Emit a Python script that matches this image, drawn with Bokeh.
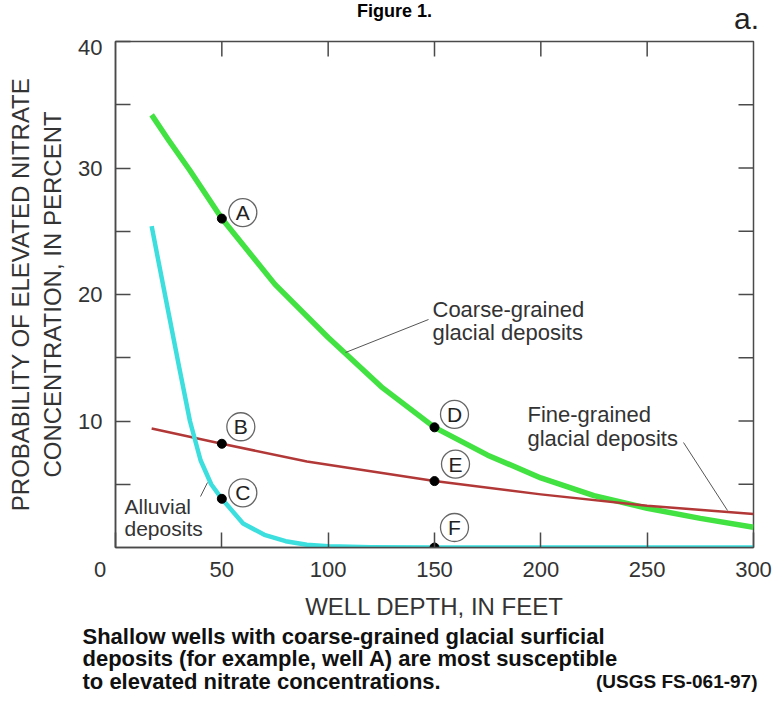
import numpy as np
from bokeh.plotting import figure
from bokeh.layouts import column
from bokeh.models import Range1d, Label, LinearAxis, FixedTicker
from bokeh.core.properties import value
from bokeh.embed import file_html
from bokeh.resources import INLINE

# ---------------- data ----------------
coarse_depth = [17, 25, 35, 50, 75, 100, 125, 150, 175, 200, 225, 250, 275, 300]
coarse_prob = [34.2, 32.2, 29.8, 26.0, 20.8, 16.6, 12.7, 9.5, 7.3, 5.5, 4.1, 3.1, 2.3, 1.6]

fine_depth = [17, 50, 90, 150, 200, 250, 300]
fine_prob = [9.4, 8.2, 6.8, 5.25, 4.2, 3.3, 2.65]

alluvial_depth = [17, 20, 25, 30, 35, 40, 45, 50, 60, 70, 80, 90, 100, 120, 150, 200, 250, 300]
alluvial_prob = [25.4, 22.8, 18.5, 14.2, 10.0, 6.9, 5.0, 3.85, 1.9, 1.0, 0.5, 0.22, 0.1, 0.02, 0, 0, 0, 0]

well_names = ["A", "B", "C", "D", "E", "F"]
well_depth = [50, 50, 50, 150, 150, 150]
well_prob = [26.0, 8.2, 3.85, 9.5, 5.25, 0.0]

x_ticks = [0, 50, 100, 150, 200, 250, 300]
y_ticks = [10, 20, 30, 40]
y_minor = [5, 15, 25, 35]

caption_lines = [
    "Shallow wells with coarse-grained glacial surficial",
    "deposits (for example, well A) are most susceptible",
    "to elevated nitrate concentrations.",
]
source_note = "(USGS FS-061-97)"

# ---------------- layout (page pixels) ----------------
W = 773
TOP_H = 39            # strip holding "Figure 1." and "a."
CAP_Y0 = 625          # caption strip starts here
H_TOTAL = 719
FX0, FX1 = 115, 753   # plot frame, page pixels
FY0, FY1 = 41, 547
XMAX, YMAX = 300, 40
XS = (FX1 - FX0) / XMAX
YS = (FY1 - FY0) / YMAX
MAIN_H = CAP_Y0 - TOP_H
CAP_H = H_TOTAL - CAP_Y0


def dx(px):
    return (px - FX0) / XS


def dy(py):
    return (FY1 - py) / YS


FONT = "Liberation Sans"
AX = "#4a4a4a"
TXT = "#333333"
INK = "#111111"


def strip(height):
    f = figure(width=W, height=height, output_backend="svg", toolbar_location=None,
               x_range=Range1d(0, W), y_range=Range1d(height, 0),
               min_border=0, x_axis_type=None, y_axis_type=None,
               frame_align=False)
    f.grid.visible = False
    f.outline_line_color = None
    f.background_fill_color = "white"
    f.border_fill_color = "white"
    return f


# ---------------- top strip ----------------
top = strip(TOP_H)
top.text(x=[394], y=[10], text=["Figure 1."], text_align="center",
         text_baseline="middle", text_font=value(FONT), text_font_size="18px",
         text_font_style="bold", text_color="black")
top.text(x=[746], y=[18], text=["a."], text_align="center",
         text_baseline="middle", text_font=value(FONT), text_font_size="30px",
         text_color="#222222")

# ---------------- main plot ----------------
p = figure(width=W, height=MAIN_H, output_backend="svg", toolbar_location=None,
           x_range=Range1d(0, XMAX), y_range=Range1d(0, YMAX),
           min_border_left=FX0, min_border_right=W - FX1,
           min_border_top=FY0 - TOP_H, min_border_bottom=CAP_Y0 - FY1,
           x_axis_type=None, y_axis_type=None, frame_align=False)
p.grid.visible = False
p.outline_line_color = AX
p.outline_line_width = 1.5
p.background_fill_color = "white"
p.border_fill_color = "white"

xb = LinearAxis(ticker=FixedTicker(ticks=x_ticks))
xb.axis_label = "WELL DEPTH, IN FEET"
xb.major_label_overrides = {0: "0\u00a0\u00a0\u00a0\u00a0\u00a0"}
yl = LinearAxis(ticker=FixedTicker(ticks=y_ticks, minor_ticks=y_minor))
yl.axis_label = "PROBABILITY OF ELEVATED NITRATE\nCONCENTRATION, IN PERCENT"

for ax in (xb, yl):
    ax.axis_line_color = AX
    ax.axis_line_width = 1.5
    ax.major_tick_line_color = AX
    ax.major_tick_line_width = 1.5
    ax.major_tick_in = 15
    ax.major_tick_out = 0
    ax.minor_tick_line_color = AX
    ax.minor_tick_line_width = 1.5
    ax.minor_tick_in = 15
    ax.minor_tick_out = 0
    ax.major_label_text_font = FONT
    ax.major_label_text_font_size = "22px"
    ax.major_label_text_color = TXT
    ax.axis_label_text_font = FONT
    ax.axis_label_text_font_size = "24px"
    ax.axis_label_text_font_style = "normal"
    ax.axis_label_text_color = TXT

xb.minor_tick_line_color = None
xb.major_label_standoff = 9
xb.axis_label_standoff = 8
yl.major_label_standoff = 13
yl.axis_label_standoff = 9
p.add_layout(xb, "below")
p.add_layout(yl, "left")

# inward ticks on the top and right frame edges
tick_len_x = 15 / YS
tick_len_y = 15 / XS
top_ticks = [t for t in x_ticks if 0 < t < XMAX]
right_ticks = sorted(y_ticks[:-1] + y_minor)
p.segment(x0=top_ticks, y0=[YMAX] * len(top_ticks), x1=top_ticks,
          y1=[YMAX - tick_len_x] * len(top_ticks), line_color=AX, line_width=1.5)
p.segment(x0=[XMAX] * len(right_ticks), y0=right_ticks,
          x1=[XMAX - tick_len_y] * len(right_ticks), y1=right_ticks,
          line_color=AX, line_width=1.5)

# ---------------- curves ----------------
p.line(coarse_depth, coarse_prob, line_color="#42e242", line_width=5.5, line_join="round")
p.line(fine_depth, fine_prob, line_color="#b23838", line_width=2.5, line_join="round")
p.line(alluvial_depth, alluvial_prob, line_color="#3ddede", line_width=4.5, line_join="round")

# wells
p.scatter(well_depth, well_prob, size=9, color="black")

off_px = [(21, 6), (19, 17), (21, 6), (20, 13), (21, 17), (20, 20)]
cx = [d + o[0] / XS for d, o in zip(well_depth, off_px)]
cy = [v + o[1] / YS for v, o in zip(well_prob, off_px)]
p.scatter(cx, cy, size=28, fill_color="white", line_color="#666666", line_width=1.3)
p.text(cx, cy, text=well_names, text_align="center", text_baseline="middle",
       text_font=value(FONT), text_font_size="21px", text_color="#222222")

# leader lines
p.segment(x0=[dx(428), dx(683), dx(200)], y0=[dy(319), dy(442), dy(496)],
          x1=[dx(345), dx(727), dx(207)], y1=[dy(352), dy(510), dy(482)],
          line_color="#555555", line_width=1)


def lab_in(px, py, text, size="22px"):
    p.add_layout(Label(x=dx(px), y=dy(py), text=text, text_align="left",
                       text_baseline="middle", text_font=FONT,
                       text_font_size=size, text_color=TXT))


lab_in(432, 309, "Coarse-grained")
lab_in(432, 332, "glacial deposits")
lab_in(527, 414, "Fine-grained")
lab_in(527, 438, "glacial deposits")
lab_in(124, 506, "Alluvial", size="21px")
lab_in(124, 528, "deposits", size="21px")

# ---------------- caption strip ----------------
cap = strip(CAP_H)
cap_y = [636 - CAP_Y0, 658 - CAP_Y0, 681 - CAP_Y0]
cap.text(x=[82] * 3, y=cap_y, text=caption_lines, text_align="left",
         text_baseline="middle", text_font=value(FONT), text_font_size="22px",
         text_font_style="bold", text_color=INK)
cap.text(x=[757], y=[cap_y[2]], text=[source_note], text_align="right",
         text_baseline="middle", text_font=value(FONT), text_font_size="19px",
         text_font_style="bold", text_color=INK)

layout = column(top, p, cap, spacing=0)
open("out.html", "w").write(file_html(layout, INLINE))
